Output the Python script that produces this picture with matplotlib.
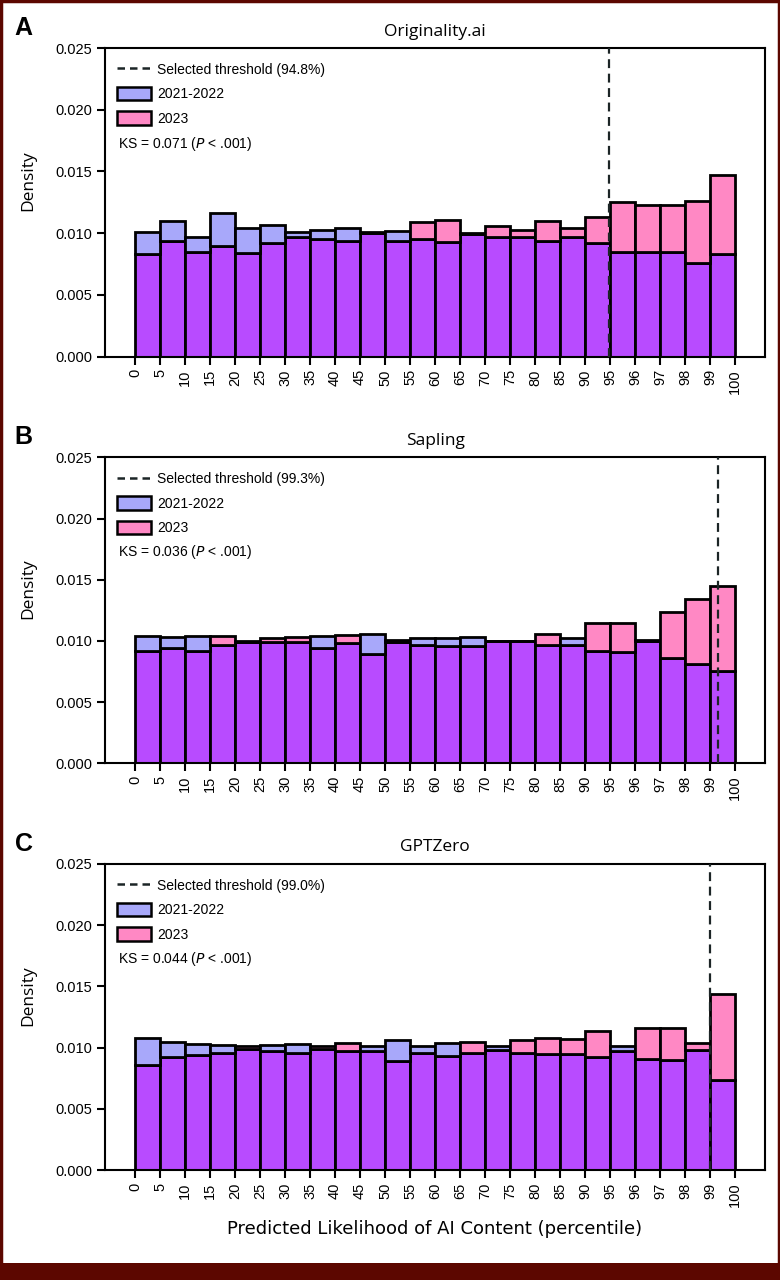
import matplotlib.pyplot as plt
import matplotlib.patches as mpatches
from matplotlib.lines import Line2D
import numpy as np

bin_labels = ["0", "5", "10", "15", "20", "25", "30", "35", "40", "45", "50", "55",
              "60", "65", "70", "75", "80", "85", "90", "95", "96", "97", "98", "99", "100"]

detectors = ["Originality.ai", "Sapling", "GPTZero"]
panel_letters = ["A", "B", "C"]
thresholds = [94.8, 99.3, 99.0]
ks_values = ["0.071", "0.036", "0.044"]

orig_2122 = [0.0101, 0.0110, 0.0097, 0.0116, 0.0104, 0.0107, 0.0101, 0.0103, 0.0104, 0.0101, 0.0102, 0.0095,
             0.0093, 0.0100, 0.0097, 0.0097, 0.0094, 0.0097, 0.0092, 0.0085, 0.0085, 0.0085, 0.0076, 0.0083]
orig_2023 = [0.0083, 0.0094, 0.0085, 0.0090, 0.0084, 0.0092, 0.0097, 0.0095, 0.0094, 0.0100, 0.0094, 0.0109,
             0.0111, 0.0099, 0.0106, 0.0103, 0.0110, 0.0104, 0.0113, 0.0125, 0.0123, 0.0123, 0.0126, 0.0147]

sapling_2122 = [0.0104, 0.0103, 0.0104, 0.0097, 0.0100, 0.0099, 0.0099, 0.0104, 0.0098, 0.0106, 0.0101, 0.0102,
                0.0102, 0.0103, 0.0100, 0.0100, 0.0097, 0.0102, 0.0092, 0.0091, 0.0100, 0.0086, 0.0081, 0.0075]
sapling_2023 = [0.0092, 0.0094, 0.0092, 0.0104, 0.0099, 0.0102, 0.0103, 0.0094, 0.0105, 0.0089, 0.0099, 0.0097,
                0.0096, 0.0096, 0.0100, 0.0100, 0.0106, 0.0097, 0.0115, 0.0115, 0.0101, 0.0124, 0.0134, 0.0145]

gptzero_2122 = [0.0108, 0.0105, 0.0103, 0.0102, 0.0099, 0.0102, 0.0103, 0.0099, 0.0097, 0.0101, 0.0106, 0.0101,
                0.0104, 0.0096, 0.0101, 0.0096, 0.0095, 0.0095, 0.0092, 0.0101, 0.0091, 0.0090, 0.0098, 0.0074]
gptzero_2023 = [0.0086, 0.0092, 0.0094, 0.0096, 0.0101, 0.0097, 0.0096, 0.0101, 0.0104, 0.0097, 0.0089, 0.0096,
                0.0093, 0.0105, 0.0098, 0.0106, 0.0108, 0.0107, 0.0114, 0.0097, 0.0116, 0.0116, 0.0104, 0.0144]

series = [(orig_2122, orig_2023), (sapling_2122, sapling_2023), (gptzero_2122, gptzero_2023)]

BLUE = "#a8a8fa"
PINK = "#ff88c4"
PURPLE = "#b84bff"
DARKRED = "#5c0700"


def pct_to_pos(p):
    # bins are 5 wide up to 95, then 1 wide
    return p / 5 if p <= 95 else 19 + (p - 95)


fig = plt.figure(figsize=(7.8, 12.8), dpi=100)
plt.rcParams['font.family'] = ['Liberation Sans', 'DejaVu Sans']

boxes = [(0.1346, 0.7213, 0.8462, 0.2412),
         (0.1346, 0.4037, 0.8462, 0.2390),
         (0.1346, 0.0857, 0.8462, 0.2395)]

x = np.arange(len(bin_labels) - 1) + 0.5

for k, (a, b) in enumerate(series):
    ax = fig.add_axes(boxes[k])
    a = np.array(a)
    b = np.array(b)
    low = np.minimum(a, b)
    high = np.maximum(a, b)
    top_col = [BLUE if ai >= bi else PINK for ai, bi in zip(a, b)]
    ax.bar(x, low, width=1.0, color=PURPLE, edgecolor="black", linewidth=2.0, zorder=2)
    ax.bar(x, high - low, bottom=low, width=1.0, color=top_col, edgecolor="black", linewidth=2.0, zorder=2)
    ax.axvline(pct_to_pos(thresholds[k]), color="#1c2526", linestyle=(0, (4, 2.5)), linewidth=1.6, zorder=3)

    ax.set_xlim(-1.2, 25.2)
    ax.set_ylim(0, 0.025)
    ax.set_xticks(np.arange(len(bin_labels)))
    ax.set_xticklabels(bin_labels, rotation=90, fontsize=10.5)
    ax.set_yticks([0, 0.005, 0.010, 0.015, 0.020, 0.025])
    ax.set_yticklabels(["0.000", "0.005", "0.010", "0.015", "0.020", "0.025"], fontsize=10.5)
    ax.tick_params(length=6, width=1.5, pad=3)
    for s in ax.spines.values():
        s.set_linewidth(1.5)
    ax.set_ylabel("Density", fontsize=12.5, family=["Open Sans", "DejaVu Sans"])
    ax.yaxis.set_label_coords(-0.104, 0.57)
    ax.set_title(detectors[k], fontsize=12.5, family=["Open Sans", "DejaVu Sans"], pad=9)
    ax.text(-0.137, 1.065, panel_letters[k], transform=ax.transAxes, fontsize=18,
            fontweight="bold", va="center", ha="left")

    handles = [Line2D([0], [0], color="#1c2526", linestyle=(0, (3, 2)), linewidth=1.8),
               mpatches.Patch(facecolor=BLUE, edgecolor="black", linewidth=1.8),
               mpatches.Patch(facecolor=PINK, edgecolor="black", linewidth=1.8)]
    labels = ["Selected threshold (%.1f%%)" % thresholds[k], "2021-2022", "2023"]
    ax.legend(handles, labels, loc="upper left", bbox_to_anchor=(0.0, 0.993), frameon=False,
              fontsize=10, handlelength=2.4, handleheight=1.1, handletextpad=0.45,
              labelspacing=0.72, borderaxespad=0.45, borderpad=0.45)
    ax.text(0.02, 0.69, "KS = %s ($\\it{P}$ < .001)" % ks_values[k], transform=ax.transAxes,
            fontsize=10, va="center", ha="left")

fig.text(0.557, 0.04, "Predicted Likelihood of AI Content (percentile)", ha="center", va="center",
         fontsize=13, family=["Liberation Sans Narrow", "DejaVu Sans"])

# frame and bottom band
fig.add_artist(mpatches.Rectangle((0, 0), 1, 17.3 / 1280, transform=fig.transFigure,
                                  facecolor=DARKRED, edgecolor="none"))
fig.add_artist(mpatches.Rectangle((0.001, 0.001), 0.998, 0.998, transform=fig.transFigure,
                                  facecolor="none", edgecolor=DARKRED, linewidth=2.5))

fig.savefig("out.png", dpi=100)
